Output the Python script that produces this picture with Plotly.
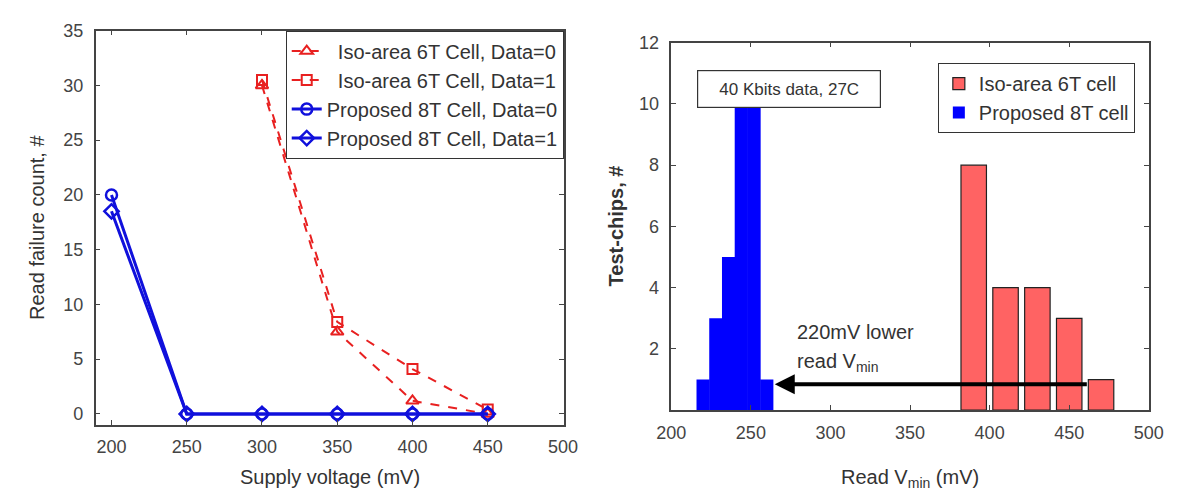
import plotly.graph_objects as go

# ---------------- data ----------------
supply_mv = [200, 250, 300, 350, 400, 450]
iso6t_x = [300, 350, 400, 450]
iso6t_data0 = [30.0, 7.5, 1.2, 0.0]
iso6t_data1 = [30.5, 8.4, 4.1, 0.4]
prop8t_data0 = [20.0, 0, 0, 0, 0, 0]
prop8t_data1 = [18.5, 0, 0, 0, 0, 0]

vmin_8t_mv = [220, 228, 236, 244, 252, 260]
vmin_8t_chips = [1, 3, 5, 10, 10, 1]
vmin_6t_mv = [390, 410, 430, 450, 470]
vmin_6t_chips = [8, 4, 4, 3, 1]

left_xticks = [200, 250, 300, 350, 400, 450, 500]
left_yticks = [0, 5, 10, 15, 20, 25, 30, 35]
right_xticks = [200, 250, 300, 350, 400, 450, 500]
right_yticks = [2, 4, 6, 8, 10, 12]

FONT = "Liberation Sans, Arial, sans-serif"
RED = "rgb(232,32,32)"
BLUE = "rgb(16,16,220)"
AX = "#444444"
TXT = "#333333"

fig = go.Figure()

# ---------------- left plot ----------------
fig.add_trace(go.Scatter(
    x=iso6t_x, y=iso6t_data0, mode="lines+markers",
    name="\u00a0\u00a0Iso-area 6T Cell, Data=0",
    line=dict(color=RED, width=2, dash="dash"),
    marker=dict(symbol="triangle-up-open", size=11, color=RED, line=dict(width=2, color=RED)),
    xaxis="x", yaxis="y", legend="legend"))
fig.add_trace(go.Scatter(
    x=iso6t_x, y=iso6t_data1, mode="lines+markers",
    name="\u00a0\u00a0Iso-area 6T Cell, Data=1",
    line=dict(color=RED, width=2, dash="dash"),
    marker=dict(symbol="square-open", size=10, color=RED, line=dict(width=2, color=RED)),
    xaxis="x", yaxis="y", legend="legend"))
fig.add_trace(go.Scatter(
    x=supply_mv, y=prop8t_data0, mode="lines+markers",
    name="Proposed 8T Cell, Data=0",
    line=dict(color=BLUE, width=3),
    marker=dict(symbol="circle-open", size=11, color=BLUE, line=dict(width=2.5, color=BLUE)),
    xaxis="x", yaxis="y", legend="legend"))
fig.add_trace(go.Scatter(
    x=supply_mv, y=prop8t_data1, mode="lines+markers",
    name="Proposed 8T Cell, Data=1",
    line=dict(color=BLUE, width=3),
    marker=dict(symbol="diamond-open", size=11, color=BLUE, line=dict(width=2.5, color=BLUE)),
    xaxis="x", yaxis="y", legend="legend"))

# ---------------- right plot ----------------
fig.add_trace(go.Bar(
    x=vmin_6t_mv, y=vmin_6t_chips, width=16,
    name="Iso-area 6T cell",
    marker=dict(color="rgb(255,99,99)", line=dict(color="#222222", width=1.2)),
    xaxis="x2", yaxis="y2", legend="legend2"))
fig.add_trace(go.Bar(
    x=vmin_8t_mv, y=vmin_8t_chips, width=8.3,
    name="Proposed 8T cell",
    marker=dict(color="rgb(0,0,255)", line=dict(width=0)),
    xaxis="x2", yaxis="y2", legend="legend2"))

axis_common = dict(
    showgrid=False, zeroline=False, showline=True, linecolor=AX, linewidth=1.5,
    mirror="ticks", ticks="inside", ticklen=5, tickcolor=AX, tickwidth=1.2,
    tickfont=dict(family=FONT, size=18, color=AX),
)

fig.update_layout(
    width=1184, height=501, autosize=False,
    margin=dict(l=0, r=0, t=0, b=0),
    paper_bgcolor="white", plot_bgcolor="white",
    font=dict(family=FONT, color=TXT),
    barmode="overlay",
    xaxis=dict(domain=[0.0698, 0.4755], range=[189.4, 500.5], tickvals=left_xticks,
               anchor="y", ticklabelstandoff=5, **axis_common),
    yaxis=dict(domain=[0.155, 0.958], range=[-1, 35], tickvals=left_yticks,
               anchor="x", ticklabelstandoff=7, **axis_common),
    xaxis2=dict(domain=[0.5687, 0.9825], range=[200, 500], tickvals=right_xticks,
                anchor="y2", ticklabelstandoff=5, **axis_common),
    yaxis2=dict(domain=[0.185, 0.9335], range=[0, 12], tickvals=right_yticks,
                anchor="x2", ticklabelstandoff=7, **axis_common),
    legend=dict(x=0.4755, xanchor="right", y=0.958, yanchor="top",
                bordercolor="#333333", borderwidth=1, bgcolor="white",
                font=dict(family=FONT, size=20, color=TXT),
                itemwidth=30, tracegroupgap=0),
    legend2=dict(x=0.9704, xanchor="right", y=0.892, yanchor="top",
                 bordercolor="#333333", borderwidth=1, bgcolor="white",
                 font=dict(family=FONT, size=20, color=TXT),
                 itemwidth=30, tracegroupgap=0),
    showlegend=True,
)

ann = []
# axis titles
ann.append(dict(text="Read failure count, #", x=22/1184, y=0.557, xref="paper", yref="paper",
                xanchor="center", yanchor="middle",
                textangle=-90, showarrow=False, font=dict(family=FONT, size=20, color=TXT)))
ann.append(dict(text="Supply voltage (mV)", x=323/1184, y=1-477/501, xref="paper", yref="paper",
                xanchor="center", yanchor="middle",
                showarrow=False, font=dict(family=FONT, size=20, color=TXT)))
ann.append(dict(text="<b>Test-chips, #</b>", x=617/1184, y=0.56, xref="paper", yref="paper",
                xanchor="center", yanchor="middle",
                textangle=-90, showarrow=False, font=dict(family=FONT, size=20, color=TXT)))
ann.append(dict(text="Read V<sub>min</sub> (mV)", x=918/1184, y=1-478/501, xref="paper", yref="paper",
                xanchor="center", yanchor="middle",
                showarrow=False, font=dict(family=FONT, size=20, color=TXT)))
# in-plot annotations
ann.append(dict(text="40 Kbits data, 27C", x=274, y=10.5, xref="x2", yref="y2",
                xanchor="center", yanchor="middle",
                showarrow=False, bordercolor="#333333", borderwidth=1.2, bgcolor="white",
                width=180, height=34, font=dict(family=FONT, size=17, color=TXT)))
ann.append(dict(text="", x=265, y=0.85, ax=462, ay=0.85, xref="x2", yref="y2",
                axref="x2", ayref="y2", showarrow=True, arrowhead=2, arrowsize=1,
                arrowwidth=4, arrowcolor="black"))
ann.append(dict(text="220mV lower", x=278, y=2.56, xref="x2", yref="y2",
                xanchor="left", yanchor="middle",
                showarrow=False, font=dict(family=FONT, size=20, color=TXT)))
ann.append(dict(text="read V<sub>min</sub>", x=278, y=1.55, xref="x2", yref="y2",
                xanchor="left", yanchor="middle",
                showarrow=False, font=dict(family=FONT, size=20, color=TXT)))
fig.update_layout(annotations=ann)

fig.write_html("out.html")
